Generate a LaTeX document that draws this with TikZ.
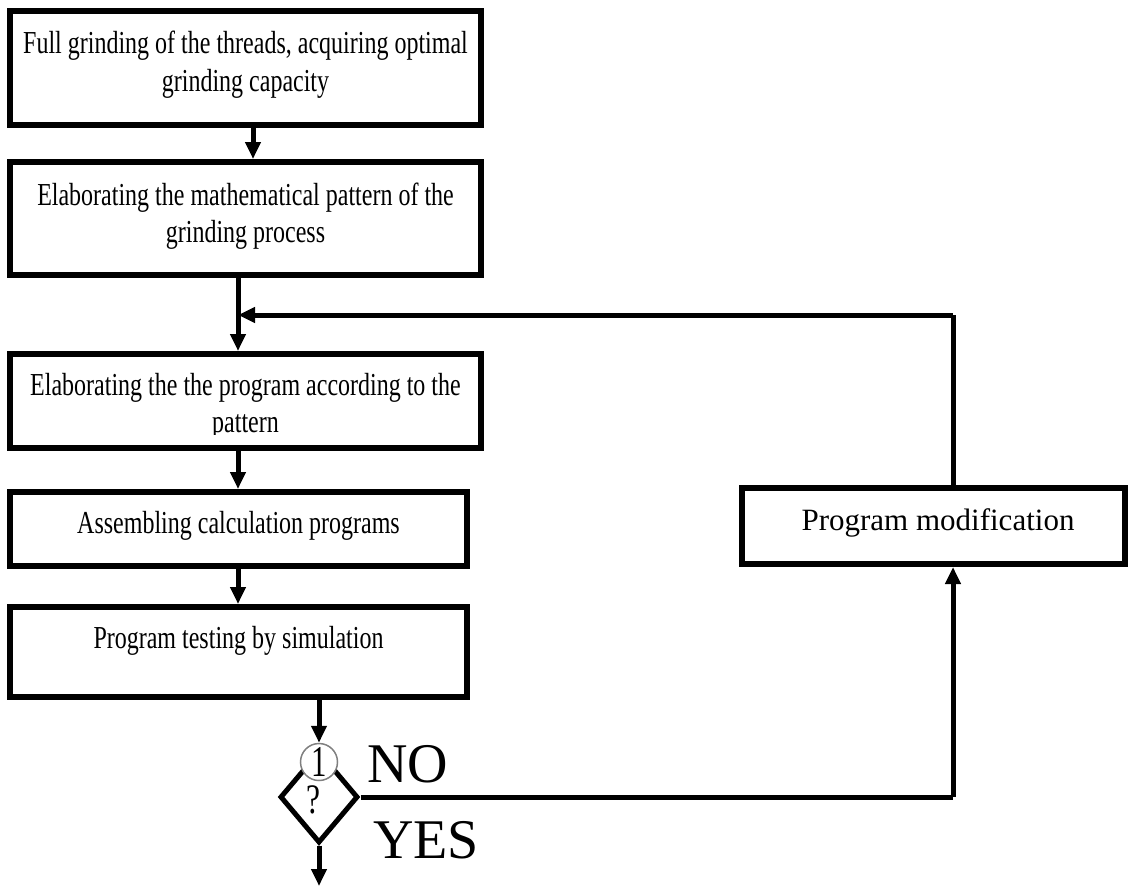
\documentclass[tikz,border=0pt]{standalone}
\usepackage{fontspec}
\setmainfont{Liberation Serif}
\newfontfamily\cond[FakeStretch=0.75]{Liberation Serif}
\usetikzlibrary{arrows.meta,shapes.geometric}
\begin{document}
\begin{tikzpicture}[x=1pt,y=-1pt,
  box/.style={draw, line width=6pt, inner sep=0pt, rectangle},
  txt/.style={anchor=base, inner sep=0pt, font=\cond\fontsize{32}{36}\selectfont},
  arr/.style={line width=5pt, -{Triangle[width=15pt,length=17pt]}},
  ln/.style={line width=5pt}]
\useasboundingbox (0,0) rectangle (1133,886);
% boxes
\node[box, minimum width=471pt, minimum height=114pt] (b1) at (245.5,68) {};
\node[box, minimum width=471pt, minimum height=113pt] (b2) at (245.5,218.5) {};
\node[box, minimum width=471pt, minimum height=94pt] (b3) at (245.5,401) {};
\node[box, minimum width=457pt, minimum height=74pt] (b4) at (238.5,529) {};
\node[box, minimum width=457pt, minimum height=90pt] (b5) at (238.5,652) {};
\node[box, minimum width=383pt, minimum height=76pt] (b6) at (933.5,526) {};
% texts
\node[txt] (t1a) at (245.5,53) {Full grinding of the threads, acquiring optimal};
\node[txt] (t1b) at (245.5,91) {grinding capacity};
\node[txt] (t2a) at (245.5,205) {Elaborating the mathematical pattern of the};
\node[txt] (t2b) at (245.5,242) {grinding process};
\node[txt] (t3a) at (245.5,395) {Elaborating the the program according to the};
\begin{scope}
\clip (0,400) rectangle (480,434);
\node[txt] (t3b) at (245.5,432) {pattern};
\end{scope}
\node[txt] (t4) at (238.5,533) {Assembling calculation programs};
\node[txt] (t5) at (238.5,648) {Program testing by simulation};
\node[anchor=base, inner sep=0pt, font=\fontsize{31}{36}\selectfont] (t6) at (938,530) {Program modification};
% decision
\node[diamond, draw, line width=5pt, inner sep=0pt, minimum width=78pt, minimum height=92pt] (d) at (319,797) {};
\node[inner sep=0pt, font=\fontsize{42}{42}\selectfont] (q) at (313,800) {\scalebox{0.75}[1]{?}};
\node[circle, draw=gray, line width=1.5pt, fill=white, inner sep=0pt, minimum size=37pt] (c) at (319,762) {};
\node[inner sep=0pt, font=\fontsize{44}{44}\selectfont] (one) at (c.center) {\scalebox{0.7}[1]{1}};
\node[inner sep=0pt, font=\fontsize{56}{56}\selectfont] (no) at (408,764) {NO};
\node[inner sep=0pt, font=\fontsize{56}{56}\selectfont] (yes) at (426,840) {YES};
% coordinates
\coordinate (j) at (238,315);
\coordinate (rt) at (953,315);
\coordinate (rb) at (953,797);
\coordinate (end) at (319,886);
% connectors
\draw[arr] (253,0 |- b1.south) -- (253,0 |- b2.north);
\draw[arr] (238,0 |- b2.south) -- (238,0 |- b3.north);
\draw[arr] (238,0 |- b3.south) -- (238,0 |- b4.north);
\draw[arr] (238,0 |- b4.south) -- (238,0 |- b5.north);
\draw[arr] (c.north |- b5.south) -- (c.north);
\draw[arr] (d.south) -- (end);
\draw[ln] (d.east) -- (rb);
\draw[arr] (rb) -- (rb |- b6.south);
\draw[ln] (rt |- b6.north) -- (rt);
\draw[arr] (rt) -- (j);
\end{tikzpicture}
\end{document}
